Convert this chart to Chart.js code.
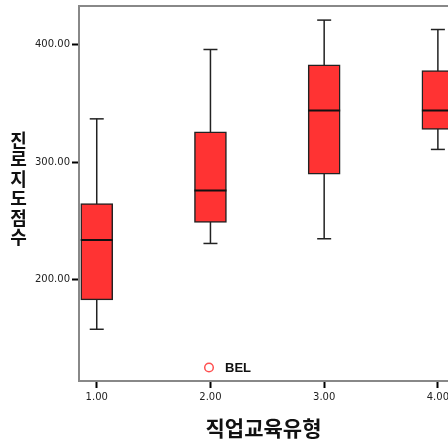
<!DOCTYPE html>
<html><head><meta charset="utf-8">
<script src="https://cdn.jsdelivr.net/npm/chart.js@4.4.0/dist/chart.umd.min.js"></script>
<style>html,body{margin:0;padding:0;background:#fff;overflow:hidden}#wrap{width:448px;height:439px;position:relative}</style>
</head><body><div id="wrap"><canvas id="c" width="448" height="439"></canvas></div>
<script>
const categories = [1, 2, 3, 4];
const whiskerLow = [158, 231, 235, 311];
const quartile1 = [183, 249, 290, 328];
const medians = [234, 276, 344, 344];
const quartile3 = [265, 326, 383, 378];
const whiskerHigh = [337, 396, 421, 413];
const yTickValues = [200, 300, 400];
const yTitle = '진로지도점수';
const xTitle = '직업교육유형';
const legendLabel = 'BEL';

const dark = '#222';
const tickFont = {family: 'DejaVu Sans', size: 10};

const medianData = categories.map((c, i) => ({x: c, y: medians[i]}));
const capData = categories.map((c, i) => ({x: c, y: whiskerLow[i]}))
  .concat(categories.map((c, i) => ({x: c, y: whiskerHigh[i]})));
const boxData = categories.map((c, i) => ({x: c, y: [quartile1[i], quartile3[i]]}));
const whiskerData = [];
categories.forEach((c, i) => {
  whiskerData.push({x: c, y: whiskerLow[i]}, {x: c, y: whiskerHigh[i]}, {x: c + 0.5, y: null});
});

const extras = {
  id: 'extras',
  afterDraw(chart) {
    const ctx = chart.ctx, a = chart.chartArea;
    ctx.save();
    // top frame line
    ctx.strokeStyle = '#888';
    ctx.lineWidth = 2;
    ctx.beginPath();
    ctx.moveTo(a.left - 1, a.top);
    ctx.lineTo(a.right + 2, a.top);
    ctx.stroke();
    // vertical y title, upright characters
    ctx.fillStyle = '#111';
    ctx.font = 'bold 18px "Noto Sans CJK KR"';
    ctx.textAlign = 'center';
    ctx.textBaseline = 'middle';
    const chars = Array.from(yTitle);
    const step = 19.5;
    const cy = (a.top + a.bottom) / 2 - 5;
    const y0 = cy - step * (chars.length - 1) / 2;
    chars.forEach((ch, i) => ctx.fillText(ch, 18.5, y0 + i * step));
    // legend marker
    const lx = a.left + 130, ly = a.bottom - 13.5;
    ctx.strokeStyle = '#ff5050';
    ctx.lineWidth = 1.5;
    ctx.beginPath();
    ctx.arc(lx, ly, 4.3, 0, Math.PI * 2);
    ctx.stroke();
    ctx.fillStyle = '#111';
    ctx.font = 'bold 13px "Liberation Sans"';
    ctx.textAlign = 'left';
    ctx.fillText(legendLabel, lx + 16, ly + 0.5);
    ctx.restore();
  }
};

new Chart(document.getElementById('c'), {
  type: 'bar',
  data: {
    datasets: [
      {type: 'scatter', label: 'median', data: medianData, pointStyle: 'line', pointRadius: 16,
       pointHoverRadius: 16, borderColor: '#111', borderWidth: 2, order: 0},
      {type: 'scatter', label: 'caps', data: capData, pointStyle: 'line', pointRadius: 7,
       pointHoverRadius: 7, borderColor: dark, borderWidth: 1.5, order: 1},
      {type: 'bar', label: legendLabel, data: boxData, backgroundColor: '#ff3333', borderColor: dark,
       borderWidth: 1.5, borderSkipped: false, barThickness: 32, order: 2},
      {type: 'line', label: 'whiskers', data: whiskerData, borderColor: dark, borderWidth: 1.5,
       pointRadius: 0, spanGaps: false, order: 3}
    ]
  },
  options: {
    responsive: false,
    animation: false,
    layout: {autoPadding: false, padding: {top: 6, right: 0, left: 0, bottom: 0}},
    plugins: {legend: {display: false}, tooltip: {enabled: false}},
    scales: {
      x: {
        type: 'linear', min: 0.844, max: 4.089, offset: false,
        grid: {display: true, offset: false, drawOnChartArea: false, drawTicks: true, tickLength: 7, tickWidth: 2, tickColor: '#000'},
        border: {display: true, color: '#888', width: 2},
        ticks: {font: tickFont, color: '#222', padding: 3, maxRotation: 0, autoSkip: false,
                callback: v => Number(v).toFixed(2)},
        afterBuildTicks: s => { s.ticks = categories.map(v => ({value: v})); },
        afterFit: s => { s.height = 58; s.paddingLeft = 0; s.paddingRight = 0; },
        title: {display: true, text: xTitle, color: '#111',
                font: {family: 'Noto Sans CJK KR', size: 21, weight: 'bold', lineHeight: 1},
                padding: {top: 0, bottom: 0}}
      },
      y: {
        type: 'linear', min: 114, max: 433,
        grid: {display: true, offset: false, drawOnChartArea: false, drawTicks: true, tickLength: 7, tickWidth: 2, tickColor: '#000'},
        border: {display: true, color: '#888', width: 2},
        ticks: {font: tickFont, color: '#222', padding: 2, callback: v => Number(v).toFixed(2)},
        afterBuildTicks: s => { s.ticks = yTickValues.map(v => ({value: v})); },
        afterFit: s => { s.width = 79; s.paddingTop = 0; s.paddingBottom = 0; }
      }
    }
  },
  plugins: [extras]
});
</script>
</body></html>
